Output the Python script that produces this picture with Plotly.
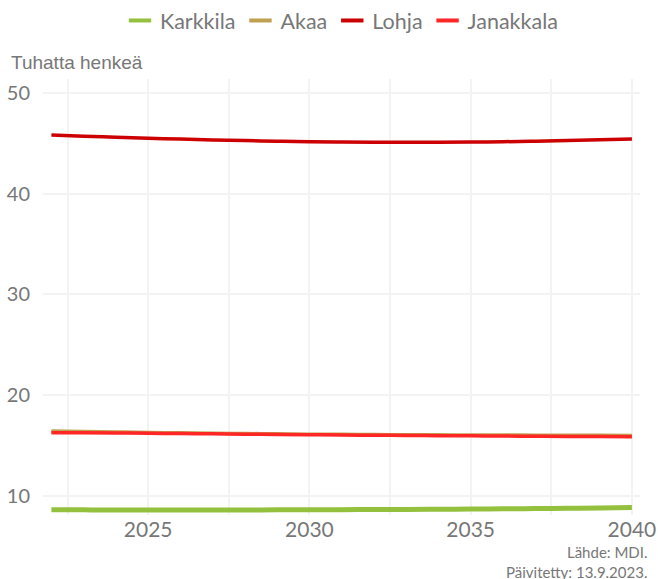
import plotly.graph_objects as go

years = list(range(2022, 2041))
karkkila = [8.62, 8.61, 8.60, 8.60, 8.60, 8.60, 8.60, 8.61, 8.62, 8.63, 8.64, 8.65, 8.67, 8.69, 8.71, 8.74, 8.77, 8.80, 8.84]
akaa = [16.45, 16.40, 16.35, 16.30, 16.26, 16.22, 16.19, 16.16, 16.13, 16.11, 16.09, 16.07, 16.06, 16.05, 16.04, 16.03, 16.02, 16.01, 16.00]
lohja = [45.83, 45.72, 45.62, 45.52, 45.43, 45.35, 45.28, 45.22, 45.17, 45.14, 45.12, 45.11, 45.12, 45.14, 45.17, 45.22, 45.28, 45.36, 45.45]
janakkala = [16.28, 16.26, 16.24, 16.22, 16.19, 16.16, 16.13, 16.10, 16.07, 16.04, 16.02, 16.00, 15.98, 15.96, 15.94, 15.92, 15.90, 15.89, 15.88]

names = ["Karkkila", "Akaa", "Lohja", "Janakkala"]
colors = ["#93c13e", "#c19f50", "#cc0000", "#ff2626"]
series = [karkkila, akaa, lohja, janakkala]
widths = [5, 3.5, 3.5, 3.5]

fig = go.Figure()
for name, col, vals, w in zip(names, colors, series, widths):
    fig.add_trace(go.Scatter(x=years, y=vals, mode="lines", name=name,
                             line=dict(color=col, width=w, shape="spline"),
                             showlegend=False))
for name, col in zip(names, colors):
    fig.add_trace(go.Scatter(x=[None], y=[None], mode="markers", name=name,
                             marker=dict(symbol="line-ew-open", size=16, color=col,
                                         line=dict(color=col, width=4))))

gray = "#777777"
grid = "#f3f3f3"
fig.update_layout(
    width=658, height=579,
    paper_bgcolor="white", plot_bgcolor="white",
    margin=dict(l=43, r=18, t=79, b=64, autoexpand=False),
    font=dict(family="Lato", color=gray),
    legend=dict(orientation="h", x=0.5, xanchor="center", y=1.0, yanchor="top",
                yref="container", font=dict(size=21.5, family="Lato", color=gray),
                traceorder="normal"),
    xaxis=dict(range=[2021.74, 2040.25], tickmode="linear", tick0=2025, dtick=5,
               showgrid=True, gridcolor=grid, gridwidth=1.5,
               minor=dict(dtick=2.5, tick0=2022.5, showgrid=True, gridcolor=grid, gridwidth=1.5),
               zeroline=False, showline=False, ticks="",
               tickfont=dict(size=21, family="Lato", color=gray)),
    yaxis=dict(range=[8.1, 51.4], tickmode="linear", tick0=10, dtick=10,
               showgrid=True, gridcolor=grid, gridwidth=1.5,
               zeroline=False, showline=False, ticks="", ticklabelstandoff=12,
               tickfont=dict(size=20, family="Lato", color=gray)),
    annotations=[
        dict(text="Tuhatta henkeä", xref="paper", yref="paper", x=0, xshift=-34,
             y=1.0, yshift=4, xanchor="left", yanchor="bottom", showarrow=False,
             font=dict(family="Liberation Sans", size=19, color=gray)),
        dict(text="Lähde: MDI.<br>Päivitetty: 13.9.2023.", xref="paper", yref="paper",
             x=1, xshift=9, y=0, yshift=-26, xanchor="right", yanchor="top",
             align="right", showarrow=False,
             font=dict(family="Lato", size=15, color=gray)),
    ],
)

fig.write_html("out.html", config={"displayModeBar": False},
               post_script="document.body.style.margin='0';document.body.style.overflow='hidden';")
